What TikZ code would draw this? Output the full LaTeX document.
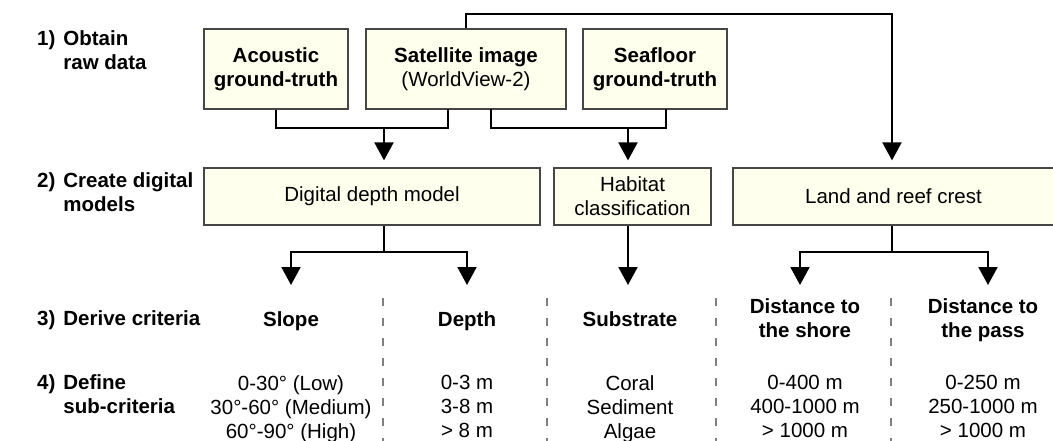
\documentclass[tikz,border=0pt]{standalone}
\usepackage{fontspec}
\setmainfont{Liberation Sans}
\usetikzlibrary{arrows.meta}
\definecolor{boxfill}{RGB}{255,255,238}
\definecolor{boxline}{RGB}{70,70,70}
\definecolor{sepgray}{RGB}{128,128,128}
\begin{document}
\begin{tikzpicture}[x=1pt,y=-1pt]
      % \tikzstyle{sbox} = [draw=black, fill=white, align=center]
      \tikzstyle{sbox} = [draw=boxline, fill=boxfill, line width=1.2pt, inner sep=0pt, align=center, font=\fontsize{20.5}{24}\selectfont]
      \tikzstyle{conn} = [line width=2pt, black]
      \tikzstyle{arr} = [conn, -{Triangle[length=18pt,width=19pt]}]
      \tikzstyle{crit} = [inner sep=0pt, anchor=north, align=center, font=\fontsize{20.5}{24}\selectfont\bfseries]
      \tikzstyle{subval} = [inner sep=0pt, anchor=north, align=center, font=\fontsize{20.5}{24}\selectfont]
      \tikzstyle{rowlab} = [inner sep=0pt, anchor=west, font=\fontsize{20.5}{24}\selectfont\bfseries]
      \tikzstyle{sep} = [sepgray, line width=1.5pt, dash pattern=on 8pt off 12pt]

      \useasboundingbox (0,0) rectangle (1053,441);

      \node[rowlab] (r1) at (37,53) {\begin{tabular}{@{}l@{\hspace{8pt}}l@{}}1) & Obtain\\ & raw data\end{tabular}};
      \node[rowlab] (r2) at (37,195) {\begin{tabular}{@{}l@{\hspace{8pt}}l@{}}2) & Create digital\\ & models\end{tabular}};
      \node[rowlab] (r3) at (37,321) {\begin{tabular}{@{}l@{\hspace{8pt}}l@{}}3) & Derive criteria\end{tabular}};
      \node[rowlab] (r4) at (37,397) {\begin{tabular}{@{}l@{\hspace{8pt}}l@{}}4) & Define\\ & sub-criteria\end{tabular}};

      \node[sbox, minimum width=144pt, minimum height=80pt] (acou) at (276,69) {\textbf{Acoustic}\\\textbf{ground-truth}};
      \node[sbox, minimum width=200pt, minimum height=80pt] (sat) at (466,69) {\textbf{Satellite image}\\(WorldView-2)};
      \node[sbox, minimum width=144pt, minimum height=80pt] (sea) at (655,69) {\textbf{Seafloor}\\\textbf{ground-truth}};

      \node[sbox, minimum width=336pt, minimum height=57pt] (dem) at (372,196.5) {Digital depth model};
      \node[sbox, minimum width=157pt, minimum height=57pt] (hab) at (632.5,196.5) {Habitat\\classification};
      \node[sbox, minimum width=321pt, minimum height=57pt] (land) at (893.5,196.5) {Land and reef crest};

      \node[crit] (slope) at (291,311) {Slope};
      \node[crit] (depth) at (467,311) {Depth};
      \node[crit] (subs) at (630,311) {Substrate};
      \node[crit] (shore) at (805,298) {Distance to\\the shore};
      \node[crit] (pass) at (983,298) {Distance to\\the pass};

      \node[subval] (slopev) at (291,375) {0-30° (Low)\\30°-60° (Medium)\\60°-90° (High)};
      \node[subval] (depthv) at (467,375) {0-3 m\\3-8 m\\> 8 m};
      \node[subval] (subsv) at (630,375) {Coral\\Sediment\\Algae};
      \node[subval] (shorev) at (805,375) {0-400 m\\400-1000 m\\> 1000 m};
      \node[subval] (passv) at (983,375) {0-250 m\\250-1000 m\\> 1000 m};

      \coordinate (sa) at (448,109);
      \coordinate (sb) at (491,109);
      \coordinate (sc) at (666,109);
      \coordinate (ja) at (384,128);
      \coordinate (jb) at (628,128);
      \coordinate (jt) at (892,14);
      \coordinate (jd) at (384,252);
      \coordinate (je) at (892,252);
      \coordinate (ta) at (291,285);
      \coordinate (tb) at (467,285);
      \coordinate (tc) at (628,285);
      \coordinate (td) at (800,285);
      \coordinate (te) at (988,285);

      \draw[conn] (acou.south) |- (ja) -| (sa);
      \draw[arr, shorten >=7pt] (ja) to (ja |- dem.north);
      \draw[conn] (sb) |- (jb) -| (sc);
      \draw[arr, shorten >=7pt] (jb) to (jb |- hab.north);
      \draw[arr, shorten >=7pt] (sat.north) |- (jt) -- (jt |- land.north);

      \draw[conn] (jd |- dem.south) to (jd);
      \draw[arr] (jd) -| (ta);
      \draw[arr] (jd) -| (tb);
      \draw[arr] (tc |- hab.south) to (tc);
      \draw[conn] (je |- land.south) to (je);
      \draw[arr] (je) -| (td);
      \draw[arr] (je) -| (te);

      \draw[sep] (383,298) to (383,441);
      \draw[sep] (547,298) to (547,441);
      \draw[sep] (716,298) to (716,441);
      \draw[sep] (891,298) to (891,441);
\end{tikzpicture}
\end{document}
